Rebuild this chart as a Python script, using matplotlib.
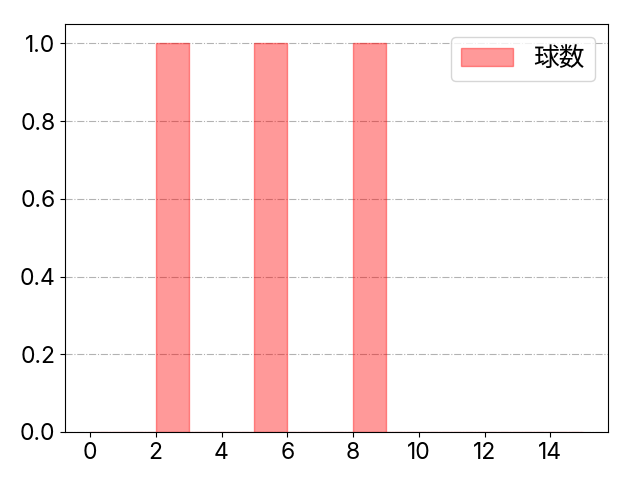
import matplotlib
matplotlib.use("Agg")
import matplotlib.pyplot as plt

plt.rcParams['font.family'] = ['Inter', 'Noto Sans CJK JP', 'DejaVu Sans']

# bins 0..14 (width 1), counts per bin
bins = list(range(15))
counts = [0, 0, 1, 0, 0, 1, 0, 0, 1, 0, 0, 0, 0, 0, 0]
label = "球数"

fig, ax = plt.subplots(figsize=(6.4, 4.8), dpi=100)
ax.bar(bins, counts, width=1, align='edge', color='red', alpha=0.4,
       edgecolor='red', linewidth=1, label=label)
ax.set_xticks(range(0, 16, 2))
ax.set_yticks([0.0, 0.2, 0.4, 0.6, 0.8, 1.0])
ax.tick_params(labelsize=16.5)
ax.grid(axis='y', linestyle='-.', color='gray', alpha=0.6)
ax.set_axisbelow(True)
ax.legend(fontsize=18.5, loc='upper right')
fig.subplots_adjust(left=0.102, right=0.95, top=0.95, bottom=0.1)
fig.savefig("out.png")
